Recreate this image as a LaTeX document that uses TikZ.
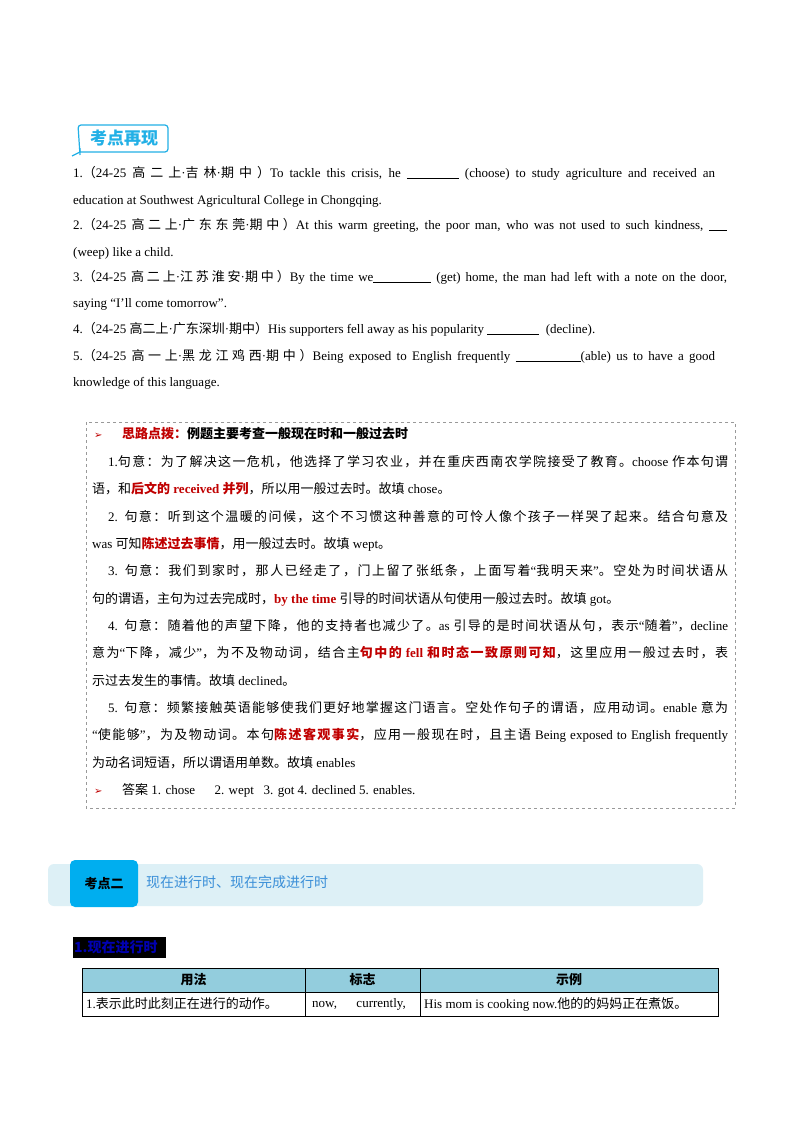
\documentclass[tikz,border=0pt]{standalone}
\usepackage{fontspec}
\setmainfont{Liberation Serif}
\newfontfamily\cjkfam{Noto Sans CJK SC}
\newfontfamily\latfam{Liberation Serif}
\newfontfamily\symf{DejaVu Sans}
\usetikzlibrary{positioning}
\definecolor{kcyan}{HTML}{22B0E6}
\definecolor{kred}{HTML}{C00000}
\definecolor{kbar}{HTML}{DDF0F6}
\definecolor{ktab}{HTML}{00AEEF}
\definecolor{ktitle}{HTML}{3A8FD8}
\definecolor{khead}{HTML}{93CDDD}
% CJK font switching
\XeTeXinterchartokenstate=1
\newXeTeXintercharclass\cjkclass
\count255="4E00
\loop\XeTeXcharclass\count255=\cjkclass\advance\count255 1 \ifnum\count255<"A000 \repeat
\count255="3000
\loop\XeTeXcharclass\count255=\cjkclass\advance\count255 1 \ifnum\count255<"3040 \repeat
\count255="FF00
\loop\XeTeXcharclass\count255=\cjkclass\advance\count255 1 \ifnum\count255<"FFF0 \repeat
\XeTeXinterchartoks 0 \cjkclass={\cjkfam}
\XeTeXinterchartoks 4095 \cjkclass={\cjkfam}
\XeTeXinterchartoks \cjkclass 0={\latfam}
\XeTeXinterchartoks \cjkclass 4095={\latfam}
\XeTeXinterchartoks \cjkclass \cjkclass={\hskip0pt plus 3pt}
\newcommand\blank[1]{\raisebox{-2pt}{\rule{#1}{0.7pt}}}
\newcommand\rb[1]{{\color{kred}\bfseries #1}}
\newcommand\jline[4]{\node[txt] (#1) at (#2) {\hbox to #3pt{#4}};}
\begin{document}
\begin{tikzpicture}[x=1pt,y=-1pt,
    txt/.style={anchor=base west, inner sep=0pt, font=\fontsize{13}{16}\selectfont},
    arr/.style={anchor=base west, inner sep=0pt, text=kred, font=\symf\fontsize{10}{12}\selectfont},
    cell/.style={inner sep=0pt, font=\fontsize{13}{16}\selectfont}
]
\useasboundingbox (0,0) rectangle (800,1132);
\fill[white] (0,0) rectangle (800,1132);

% badge
\draw[kcyan, line width=1.2pt, rounded corners=3pt] (80,155) -- (78,125) -- (168,125) -- (168,152) -- (80,152);
\draw[kcyan, line width=1.2pt] (80,148) -- (80,152) -- (72,156);
\node[text=kcyan, font=\cjkfam\bfseries\fontsize{17}{20}\selectfont] (badge) at (124,138) {考点再现};

% questions
\jline{q1a}{73,177}{642}{1.（24-25 高二上·吉林·期中）To tackle this crisis, he \blank{52pt} (choose) to study agriculture and received an}
\node[txt] (q1b) at (73,204) {education at Southwest Agricultural College in Chongqing.};
\jline{q2a}{73,229}{654}{2.（24-25 高二上·广东东莞·期中）At this warm greeting, the poor man, who was not used to such kindness, \blank{18pt}}
\node[txt] (q2b) at (73,256) {(weep) like a child.};
\jline{q3a}{73,281}{654}{3.（24-25 高二上·江苏淮安·期中）By the time we\blank{58pt} (get) home, the man had left with a note on the door,}
\node[txt] (q3b) at (73,307) {saying “I’ll come tomorrow”.};
\node[txt] (q4) at (73,333) {4.（24-25 高二上·广东深圳·期中）His supporters fell away as his popularity \blank{52pt}\ \ (decline).};
\jline{q5a}{73,360}{642}{5.（24-25 高一上·黑龙江鸡西·期中）Being exposed to English frequently \blank{65pt}(able) us to have a good}
\node[txt] (q5b) at (73,386) {knowledge of this language.};

% analysis box
\draw[gray!80, dashed, line width=0.6pt] (86,422) rectangle (735,808);
\node[arr] (a0) at (94,438) {➢};
\node[txt] (h0) at (122,438) {\bfseries{\color{kred}思路点拨：}例题主要考查一般现在时和一般过去时};
\jline{b1a}{108,466}{620}{1.句意：为了解决这一危机，他选择了学习农业，并在重庆西南农学院接受了教育。choose 作本句谓}
\node[txt] (b1b) at (92,493) {语，和\rb{后文的 received 并列}，所以用一般过去时。故填 chose。};
\jline{b2a}{108,521}{620}{2. 句意：听到这个温暖的问候，这个不习惯这种善意的可怜人像个孩子一样哭了起来。结合句意及}
\node[txt] (b2b) at (92,548) {was 可知\rb{陈述过去事情}，用一般过去时。故填 wept。};
\jline{b3a}{108,575}{620}{3. 句意：我们到家时，那人已经走了，门上留了张纸条，上面写着“我明天来”。空处为时间状语从}
\node[txt] (b3b) at (92,603) {句的谓语，主句为过去完成时，\rb{by the time} 引导的时间状语从句使用一般过去时。故填 got。};
\jline{b4a}{108,630}{620}{4. 句意：随着他的声望下降，他的支持者也减少了。as 引导的是时间状语从句，表示“随着”，decline}
\jline{b4b}{92,657}{636}{意为“下降，减少”，为不及物动词，结合主\rb{句中的 fell 和时态一致原则可知}，这里应用一般过去时，表}
\node[txt] (b4c) at (92,685) {示过去发生的事情。故填 declined。};
\jline{b5a}{108,712}{620}{5. 句意：频繁接触英语能够使我们更好地掌握这门语言。空处作句子的谓语，应用动词。enable 意为}
\jline{b5b}{92,739}{636}{“使能够”，为及物动词。本句\rb{陈述客观事实}，应用一般现在时，且主语 Being exposed to English frequently}
\node[txt] (b5c) at (92,767) {为动名词短语，所以谓语用单数。故填 enables};
\node[arr] (a1) at (94,794) {➢};
\node[txt] (ans) at (122,794) {答案 1. chose\quad\ \ 2. wept\ \ \ 3. got 4. declined 5. enables.};

% section bar
\fill[kbar, rounded corners=6pt] (48,864) rectangle (703,906);
\fill[ktab, rounded corners=5pt] (70,860) rectangle (138,907);
\node[font=\cjkfam\bfseries\fontsize{13}{16}\selectfont] (sec) at (104,884) {考点二};
\node[anchor=west, inner sep=0pt, text=ktitle, font=\cjkfam\fontsize{14}{16}\selectfont] (sectitle) at (146,882) {现在进行时、现在完成进行时};

% subheading
\fill[black] (73,937) rectangle (166,958);
\node[anchor=west, inner sep=0pt, text=blue!70!black, font=\cjkfam\bfseries\fontsize{14}{16}\selectfont] (sub) at (74,947.5) {1.现在进行时};

% table
\fill[khead] (82,968) rectangle (718,992);
\draw[line width=0.8pt] (82,968) rectangle (718,1016);
\draw[line width=0.6pt] (82,992) -- (718,992);
\foreach \cx in {305,420} \draw[line width=0.6pt] (\cx,968) -- (\cx,1016);
\node[cell, font=\cjkfam\bfseries\fontsize{13}{16}\selectfont] (th1) at (193.5,980) {用法};
\node[cell, font=\cjkfam\bfseries\fontsize{13}{16}\selectfont] (th2) at (362.5,980) {标志};
\node[cell, font=\cjkfam\bfseries\fontsize{13}{16}\selectfont] (th3) at (569,980) {示例};
\node[cell, anchor=west] (td1) at (86,1004) {1.表示此时此刻正在进行的动作。};
\node[cell, anchor=west] (td2) at (312,1004) {now,\quad\ \ currently,};
\node[cell, anchor=west] (td3) at (424,1004) {His mom is cooking now.他的的妈妈正在煮饭。};
\end{tikzpicture}
\end{document}
